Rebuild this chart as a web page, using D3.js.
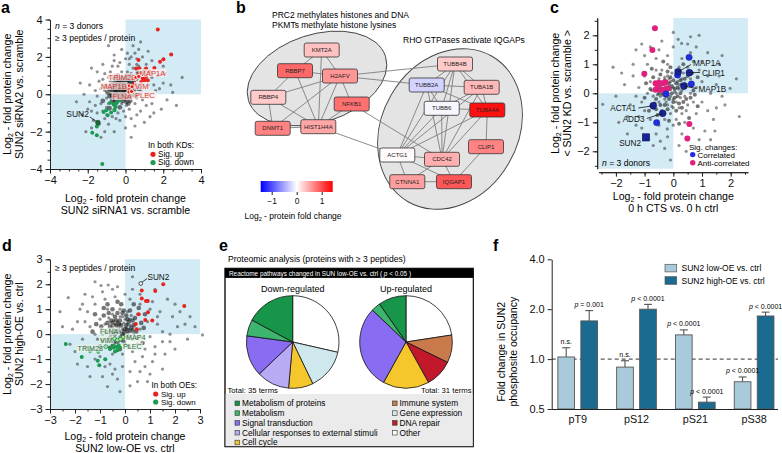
<!DOCTYPE html>
<html>
<head>
<meta charset="utf-8">
<script src="https://cdn.jsdelivr.net/npm/d3@7"></script>
<style>
body{margin:0;background:#fff;}
svg{font-family:"Liberation Sans",Arial,Helvetica,sans-serif;}
</style>
</head>
<body>
<svg id="fig" width="782" height="453"></svg>
<script>
// ---------- panel a : SUN2 siRNA1 vs siRNA2 ----------
var aGray = [[-0.5,0.5],[-0.4,0.3],[-0.3,0.6],[-0.2,0.1],[-0.1,0.4],[0,0.2],[0.1,0.5],[0.2,0.0],[-0.6,0.1],[-0.5,-0.1],
  [-0.3,-0.2],[-0.1,-0.1],[0.1,0.1],[0.3,0.3],[-0.4,0.8],[-0.2,0.9],[0,0.7],[0.2,0.8],[-0.7,0.4],[-0.8,0.0],
  [-0.6,-0.3],[-0.4,-0.4],[-0.2,-0.5],[0,-0.3],[0.2,-0.2],[0.4,0.1],[0.4,0.6],[-0.9,0.3],[-0.3,0.2],[-0.15,0.25],
  [0.05,0.35],[-0.45,0.05],[-0.25,-0.05],[-0.05,0.15],[0.15,0.25],[-0.35,0.45],[-0.55,0.25],[-0.65,0.65],[0.25,0.55],[-0.1,0.75],
  [-0.75,-0.15],[-0.5,-0.55],[0.05,-0.6],[0.3,-0.1],[0.5,0.3],[0.6,0.0],[-1.0,-0.2],[-1.1,0.2],[-0.9,-0.5],[-0.8,0.7],
  [0.6,0.8],[0.5,1.0],[0.3,1.1],[0.1,1.2],[-0.2,1.2],[-0.5,1.0],[0.7,0.5],[0.8,0.2],[-0.35,0.35],[-0.2,0.45],
  [-0.05,0.55],[0.1,0.65],[-0.45,0.6],[-0.3,0.05],[-0.15,0.0],[0.0,0.45],[-0.6,0.45],[0.2,0.4],[-0.25,0.7],[0.35,0.85],
  [0.3,2.0],[0.5,2.2],[0.6,1.9],[0.2,1.6],[0.7,1.5],[-0.4,1.5],[-0.8,1.2],[-1.2,0.8],[-1.3,0.3],[-1.5,-0.1],
  [-1.3,-0.5],[-1.2,-0.9],[-1.6,-0.6],[-1.8,-0.9],[-2.0,-0.8],[-1.0,-1.1],[-0.7,-1.2],[-0.4,-1.0],[-0.1,-0.9],[0.2,-0.8],
  [0.5,-0.5],[0.9,-0.3],[1.2,0.0],[1.5,0.5],[1.8,0.3],[2.0,0.6],[2.5,0.1],[1.3,1.2],[1.0,0.8],[1.1,1.6],
  [0.9,2.0],[0.4,2.6],[0.0,1.9],[-0.6,1.8],[-1.5,1.2],[-1.9,0.5],[-2.2,0.0],[-1.7,-1.4],[-1.4,-1.6],[-0.9,-1.6],
  [-0.3,-1.4],[0.3,-1.3],[0.8,-0.9],[1.4,-0.5],[2.2,-0.3],[1.7,1.0],[2.0,1.5],[-0.2,2.4],[0.8,2.8],[-1.1,-2.0],
  [0.0,-1.8],[1.0,-1.5],[0.9,1.2],[1.2,0.5],[-0.9,0.9],[-1.0,-0.7],[0.6,-0.2],[1.5,-1.0],[-0.6,-0.8],[0.4,1.4]];
var aGrayOuter = [[-1.4,0.7],[-1.6,0.2],[-1.1,1.1],[-0.7,1.5],[-0.3,1.7],[0.2,1.9],[0.6,1.6],[1.0,1.3],[1.4,0.9],[1.6,0.2],
  [1.1,-0.6],[0.6,-1.1],[0.0,-1.2],[-0.5,-1.3],[-1.1,-1.3],[-1.5,-1.0],[-1.9,-0.4],[-2.3,-1.1],[-1.8,-1.8],[-1.3,-2.3],
  [-0.6,-2.0],[0.5,-1.7],[1.3,-1.2],[1.9,-0.8],[2.4,0.5],[2.1,1.1],[1.4,1.8],[0.7,2.4],[0.1,2.2],[-0.6,2.1],
  [-1.2,1.6],[-1.8,1.4],[-2.4,0.6],[-2.6,-0.4],[3.0,0.9],[2.7,-0.6],[1.2,2.3],[-0.9,2.6],[0.3,-2.3],[-2.1,-2.0]];
var aGrayCore = [[-0.7,0.2],[-0.6,0.35],[-0.5,0.15],[-0.4,0.2],[-0.3,0.35],[-0.2,0.3],[-0.1,0.2],[0,0.3],[0.1,0.3],[0.2,0.2],
  [-0.7,-0.05],[-0.6,-0.15],[-0.5,0.0],[-0.4,-0.1],[-0.3,-0.05],[-0.2,-0.2],[-0.1,0.05],[0,0.0],[0.1,-0.05],[0.2,0.15],
  [-0.6,0.55],[-0.5,0.7],[-0.4,0.6],[-0.3,0.8],[-0.2,0.65],[-0.1,0.6],[0,0.85],[0.1,0.75],[0.2,0.65],[0.3,0.7],
  [-0.8,0.25],[-0.85,-0.1],[-0.7,-0.35],[-0.55,-0.4],[-0.35,-0.3],[-0.15,-0.35],[0.05,-0.4],[0.25,-0.35],[0.35,-0.05],[0.45,0.2],
  [0.5,0.5],[0.35,0.45],[0.15,0.5],[-0.05,0.3],[-0.25,0.5],[-0.45,0.4],[-0.65,0.3],[-0.35,0.65],[-0.15,0.85],[0.05,1.0],
  [-0.4,1.0],[-0.6,0.85],[0.25,1.0],[0.45,0.75],[-0.25,0.15],[-0.45,0.25],[-0.05,-0.2],[-0.55,0.1],[0.15,-0.15],[-0.35,-0.15],
  [-0.75,0.5],[-0.95,0.1],[-1.05,0.45],[-1.2,-0.35],[-0.85,-0.75],[-0.3,-0.7],[0.15,-0.5],[0.55,-0.1],[0.7,0.3],[0.65,1.1]];
var aUp = [[1.71,3.46],[2.42,2.13],[2.01,1.87],[1.83,1.74],[0.69,1.83],[0.74,1.38],[0.56,1.38],[1.09,1.38],[1.53,1.41],
  [0.74,0.93],[0.92,0.84],[1.09,0.93],[1.0,0.75],[0.56,0.84],[1.18,0.75],[0.83,0.66],[0.48,0.57],[0.42,0.48],
  [0.74,1.11],[1.27,1.2],[0.25,0.39],[0.12,0.3]];
var aDown = [[-1.52,-1.72],[-1.76,-2.06],[-1.52,-2.2],[-1.23,-3.73],[-0.94,-1.13],[-1.02,-0.86],[-0.81,-0.45],
  [-0.63,-0.55],[-0.53,-0.68],[-0.76,-0.98],[-0.46,-0.45],[-0.32,-0.32],[-0.58,-0.86],[-1.16,-0.95]];
var aSun2 = [-1.46,-1.52];
var aTagged = [["TRIM28",0.55,0.9],["MAP1A",0.7,0.95],["MAP1B",0.2,0.45],["VIM",0.35,0.4],["FLNA",0.18,0.12],["PLEC",0.32,0.15]];

// ---------- panel b : network ----------
var nodeNames = ["KMT2A","RBBP7","H2AFV","RBBP4","NFKB1","DNMT1","HIST1H4A","TUBB4B","TUBB2A","TUBA1B","TUBB6","TUBA4A","CLIP1","ACTG1","CDC42","CTNNA1","IQGAP1"];
var nodeFC = [0.35,0.85,0.6,0.3,0.8,0.7,0.5,0.3,-0.25,0.4,-0.05,1.35,0.7,0.02,0.45,0.55,0.95];
var links = [["KMT2A","RBBP7"],["KMT2A","H2AFV"],["KMT2A","HIST1H4A"],["RBBP7","H2AFV"],["RBBP7","RBBP4"],["RBBP7","HIST1H4A"],
  ["H2AFV","RBBP4"],["H2AFV","NFKB1"],["H2AFV","DNMT1"],["H2AFV","HIST1H4A"],["RBBP4","DNMT1"],["RBBP4","HIST1H4A"],
  ["DNMT1","HIST1H4A"],["NFKB1","HIST1H4A"],["H2AFV","TUBB4B"],["H2AFV","TUBB2A"],["HIST1H4A","ACTG1"],["NFKB1","CDC42"],
  ["TUBB4B","TUBB2A"],["TUBB4B","TUBA1B"],["TUBB4B","TUBB6"],["TUBB4B","TUBA4A"],["TUBB4B","CDC42"],["TUBB4B","ACTG1"],
  ["TUBB2A","TUBA1B"],["TUBB2A","TUBB6"],["TUBB2A","TUBA4A"],["TUBB2A","ACTG1"],["TUBB2A","CDC42"],
  ["TUBA1B","TUBB6"],["TUBA1B","TUBA4A"],["TUBA1B","ACTG1"],["TUBA1B","CDC42"],["TUBB6","TUBA4A"],["TUBB6","ACTG1"],
  ["TUBB6","CDC42"],["TUBA4A","ACTG1"],["TUBA4A","CDC42"],["TUBA4A","CLIP1"],["CLIP1","IQGAP1"],["ACTG1","CDC42"],
  ["ACTG1","CTNNA1"],["ACTG1","IQGAP1"],["CDC42","IQGAP1"],["CDC42","CTNNA1"],["CTNNA1","IQGAP1"]];
var fcTicks = [-1,0,1];

// ---------- panel c : CTS vs SUN2 KD ----------
var cGray = [[-0.3,0.3],[-0.2,0.1],[-0.1,0.4],[0,0.2],[0.1,0],[0.2,0.3],[-0.4,0],[-0.3,-0.2],[-0.1,-0.1],[0.1,-0.3],
  [0.3,0.1],[0.4,-0.1],[-0.5,0.5],[-0.2,0.6],[0.1,0.6],[0.3,0.5],[-0.6,0.2],[-0.5,-0.3],[-0.2,-0.4],[0,-0.5],
  [0.2,-0.5],[0.5,0.3],[-0.7,-0.1],[0.5,-0.4],[-0.35,0.15],[-0.15,0.25],[0.05,0.05],[0.25,-0.15],[-0.45,-0.1],[-0.25,-0.3],
  [0.15,0.4],[-0.05,0.7],[0.35,0.7],[-0.4,0.8],[0.6,0],[0.6,0.5],[-0.8,0.4],[-0.9,0],[-0.7,-0.5],[-0.4,-0.6],
  [-0.1,-0.7],[0.3,-0.7],[0.7,-0.3],[0.8,0.2],[0.2,0.9],[-0.2,1.0],[-0.6,0.8],[0.5,0.9],[-0.3,-0.9],[0.1,-0.9],
  [-0.15,0.5],[0.0,-0.2],[0.2,0.15],[-0.55,-0.05],[0.4,0.35],[-0.3,0.55],[0.1,0.8],[-0.05,-0.45],[0.45,-0.6],[-0.75,0.1],
  [-1.0,0.6],[-1.1,-0.3],[-1.0,-0.6],[-0.8,-0.9],[-0.5,-1.1],[0,-1.1],[0.4,-1.0],[0.8,-0.7],[1.0,-0.3],[1.0,0.4],
  [0.9,0.8],[0.7,1.1],[0.3,1.2],[-0.2,1.3],[-0.6,1.2],[-0.9,1.0],[-1.2,0.2],[-1.3,-0.1],[-1.2,-0.8],[-0.6,-1.4],
  [-0.2,-1.5],[0.3,-1.4],[0.7,-1.2],[1.2,-0.6],[1.3,0.0],[1.2,0.6],[1.0,1.1],[0.6,1.4],[0.0,1.6],[-0.5,1.5],
  [-1.0,1.3],[-1.4,0.6],[-1.5,-0.4],[-1.3,-1.1],[1.5,0.3],[1.4,-0.9],[0.9,-1.6],[0.2,-1.8],[0.17,1.86],[0.29,1.72],
  [1.98,0.17],[-2.46,-0.38],[-1.7,0.3],[1.6,1.0],[-0.21,-1.23],[0.5,1.7],[-1.1,1.7],[1.8,-0.4],[-0.9,-1.5],[0.45,-2.0]];
var cGrayOuter = [[-1.6,-0.8],[-1.8,0.7],[-1.4,1.0],[-2.0,-0.1],[-0.8,1.6],[-0.4,1.8],[0.8,1.6],[1.2,1.4],[1.6,0.6],[1.7,-0.1],
  [1.5,-0.5],[1.1,-1.3],[0.5,-1.6],[-0.3,-1.9],[-0.7,-1.8],[-1.1,-1.2],[-1.6,-1.4],[2.2,0.5],[1.3,-1.6],[-2.1,0.9],
  [0.9,2.0],[0.0,2.1],[-1.3,1.5],[2.3,-0.8],[-0.1,-2.3],[1.7,1.3],[-1.9,-1.0],[0.6,1.95],[1.45,-1.3],[-0.45,-1.65]];
var cGrayCore = [[-0.35,0.35],[-0.25,0.2],[-0.15,0.35],[-0.05,0.25],[0.05,0.15],[0.15,0.2],[0.25,0.0],[-0.45,0.2],[-0.35,-0.05],[-0.25,-0.1],
  [-0.15,-0.2],[-0.05,0.0],[0.05,-0.15],[0.15,-0.1],[0.35,-0.3],[-0.55,0.35],[-0.3,0.45],[0.0,0.45],[0.25,0.45],[-0.6,-0.2],
  [-0.45,-0.4],[-0.2,-0.55],[0.1,-0.6],[0.4,0.2],[0.5,0.6],[-0.1,0.9],[-0.45,0.65],[-0.7,0.55],[-0.8,0.15],[-0.65,-0.35],
  [0.3,0.3],[0.45,-0.2],[0.6,-0.15],[0.7,0.1],[0.65,0.7],[0.35,1.0],[-0.35,1.1],[-0.75,0.85],[-0.95,0.35],[-1.0,-0.15],
  [-0.85,-0.6],[-0.55,-0.75],[-0.15,-0.95],[0.2,-1.05],[0.55,-0.85],[0.85,-0.45],[0.85,0.55],[-0.1,0.55],[-0.2,0.75],[0.0,-0.3],
  [-0.4,0.1],[-0.1,0.15],[0.2,-0.35],[-0.3,-0.4],[0.1,0.35],[0.4,0.5],[-0.5,0.0],[-0.6,-0.55],[0.3,-0.5],[0.75,-0.05]];
var cCorr = [[0.55,1.24],[0.15,0.63],[0.63,0.32],[-0.25,-0.02],[-0.58,-1.01]];
var cCorrTagged = [["MAP1A",0.17,0.74],["CLIP1",0.56,0.71],["MAP1B",0.37,0.25],["ACTA1",-0.7,-0.43],["ADD3",-0.37,-0.69]];
var cSun2 = [-0.95,-1.52];
var cAnti = [[-0.64,2.24],[-0.73,1.49],[-1.01,0.67],[0.49,-1.56],[0.56,-1.06],[-0.62,0.35],[-0.5,0.36],[-0.38,0.35],
  [-0.27,0.38],[-0.62,0.12],[-0.5,0.13],[-0.4,0.12],[-0.28,0.14],[-0.18,0.17],[-0.55,0.22]];

// ---------- panel d : low-OE vs high-OE ----------
var dGray = [[-0.5,0.3],[-0.3,0.5],[-0.1,0.2],[0.1,0.4],[-0.2,-0.1],[0,0],[0.2,0.1],[-0.4,-0.2],[-0.6,0.1],[-0.1,0.7],
  [0.2,0.6],[-0.5,0.8],[0.3,-0.2],[0,-0.4],[-0.3,-0.5],[-0.7,-0.3],[-0.8,0.4],[0.4,0.4],[-0.2,1.0],[0.1,0.9],
  [-0.25,0.25],[-0.05,0.45],[0.15,0.2],[-0.35,0.05],[-0.15,-0.25],[0.05,-0.15],[-0.45,0.55],[0.25,0.75],[-0.65,0.65],[0.35,0.0],
  [-0.9,0],[-1.0,0.6],[-0.7,1.0],[0.5,0.8],[0.6,0.2],[0.5,-0.4],[-0.1,-0.8],[-0.5,-0.8],[0.3,-0.7],[-1.1,-0.2],
  [-0.2,0.4],[0.0,0.6],[-0.4,0.4],[0.1,0.05],[-0.3,0.15],[0.2,0.35],[-0.1,-0.05],[-0.55,0.0],[0.05,0.25],[-0.2,0.7],
  [-1.4,0.3],[-1.5,0.9],[-1.2,1.2],[-0.8,1.4],[-0.4,1.5],[0.2,1.4],[0.6,1.2],[0.9,0.5],[1.0,-0.1],[0.8,-0.6],
  [0.4,-1.1],[-0.1,-1.3],[-0.6,-1.2],[-1.0,-0.9],[-1.3,-0.6],[-1.7,-0.2],[-1.9,0.5],[-2.27,1.46],[-0.67,1.97],[-0.96,1.95],
  [0.2,-2.07],[3.1,-0.03],[1.3,0.4],[1.5,0.1],[1.2,-0.5],[1.6,-0.8],[1.9,0.7],[2.2,0.9],[2.4,0.4],[1.0,1.0],
  [0.3,1.8],[-0.3,1.9],[-1.6,1.6],[-2.0,-0.7],[-1.5,-1.3],[-0.9,-1.7],[-0.3,-1.8],[0.6,-1.5],[1.1,-1.1],[1.8,-0.3],
  [0.9,-1.9],[-2.5,0.3],[-1.2,0.0],[1.4,0.9],[2.8,0.3],[-0.5,-1.6],[0.0,1.6],[1.7,1.4],[-1.8,1.0],[0.7,-0.9]];
var dGrayOuter = [[-1.6,0.5],[-1.7,1.2],[-1.3,1.5],[-0.9,1.7],[-0.5,1.8],[0.6,1.6],[1.1,1.3],[1.3,0.7],[1.5,-0.3],[1.2,-0.8],
  [0.8,-1.3],[0.2,-1.5],[-0.4,-1.4],[-0.8,-1.3],[-1.2,-1.0],[-1.6,-0.5],[-2.1,0.2],[-2.2,-0.4],[-1.4,-1.7],[-0.2,-2.3],
  [0.5,-1.9],[1.5,-1.4],[2.0,-0.6],[2.1,0.3],[2.6,0.7],[2.0,1.2],[1.2,1.8],[0.3,2.3],[-1.2,2.1],[-2.6,0.9],
  [1.0,-1.6],[-0.7,-2.1],[2.5,-0.2],[1.8,0.0],[-1.9,-1.2]];
var dGrayCore = [[-0.6,0.3],[-0.45,0.15],[-0.35,0.35],[-0.25,0.1],[-0.15,0.35],[-0.05,0.1],[0.05,0.35],[0.15,0.5],[0.25,0.25],[-0.55,0.55],
  [-0.4,0.7],[-0.3,0.85],[-0.1,0.85],[0.05,0.75],[0.3,0.55],[-0.7,0.45],[-0.75,0.1],[-0.6,-0.15],[-0.45,-0.35],[-0.3,-0.3],
  [-0.05,-0.3],[0.15,-0.1],[0.3,0.15],[0.45,0.1],[0.4,0.65],[0.2,0.95],[-0.5,1.0],[-0.85,0.75],[-0.95,0.3],[-0.9,-0.25],
  [-0.6,-0.55],[-0.2,-0.6],[0.15,-0.5],[0.5,-0.15],[0.65,0.45],[0.55,1.05],[-0.15,1.2],[-0.7,1.2],[-1.15,0.4],[-1.2,0.8],
  [-0.35,0.55],[-0.2,0.55],[0.0,0.2],[-0.1,0.0],[-0.4,0.0],[0.1,0.15],[-0.25,0.4],[-0.5,0.45],[0.1,0.6],[-0.05,0.95],
  [0.35,0.35],[-0.65,0.85],[0.75,0.25],[0.7,-0.35],[-1.0,-0.5],[-0.85,1.05],[0.35,1.2],[-0.3,1.3],[0.8,0.8],[-1.3,0.1]];
var dUp = [[1.53,2.0],[0.67,1.75],[1.21,1.73],[0.67,1.43],[0.91,1.33],[0.84,1.33],[0.92,0.88],[0.55,0.8],
  [2.37,1.13],[1.09,0.55],[0.81,0.57],[0.43,0.41],[0.47,0.2]];
var dDown = [[-2.37,-0.39],[-1.73,-0.92],[-1.4,-0.69],[-1.09,-1.07],[-1.03,-1.25],[-0.79,-1.01],[-1.07,-0.71],
  [-0.6,-0.6],[-0.45,-0.55],[-0.35,-0.5],[-0.3,-0.65],[-0.5,-0.45],[-0.25,-0.45],[-0.4,-0.7],[-0.2,-0.55]];
var dSun2 = [0.63,2.03];
var dTagged = [["FLNA",-0.42,-0.18],["VIM",-0.3,-0.24],["MAP4",-0.08,-0.12],["PLEC",-0.18,-0.2],["TRIM28",-0.77,-0.5]];

// ---------- panel e : reactome pies ----------
var pathways = ["Metabolism of proteins","Metabolism","Signal transduction","Cellular responses to external stimuli","Cell cycle",
  "Immune system","Gene expression","DNA repair","Other"];
var pathColors = ["#17964a","#3db56e","#8a6cf2","#b9aaf5","#f6c72c","#c97a4b","#cfe8ee","#c2182b","#ffffff"];
var downTerms = [["Other",10],["Gene expression",5],["Cell cycle",3],["Cellular responses to external stimuli",4],
  ["Signal transduction",5],["Metabolism",2],["Metabolism of proteins",6]];
var upTerms = [["Other",7],["Immune system",3],["DNA repair",3],["Cell cycle",5],["Signal transduction",9],
  ["Metabolism",1],["Metabolism of proteins",3]];

// ---------- panel f : phosphosite occupancy ----------
var sites = ["pT9","pS12","pS21","pS38"];
var lowOE = [1.03,0.895,1.40,0.73];
var lowErr = [1.17,0.977,1.50,0.78];
var highOE = [1.70,2.0,0.55,1.82];
var highErr = [1.96,2.14,0.59,1.92];
var lowP = ["n.s.","n.s.","p < 0.0001","p < 0.0001"];
var highP = ["p = 0.001","p < 0.0001","p < 0.0001","p < 0.0001"];
var fTicks = [0.5,1,2,4];

var svg = d3.select("#fig");
var QUAD = "#d3ebf5";

function log2Text(sel, rest, size){
  sel.append("tspan").text("Log");
  sel.append("tspan").text("2").attr("font-size", size*0.65).attr("dy", size*0.22);
  sel.append("tspan").text(rest).attr("dy", -size*0.22);
}

function panelLetter(t, x, y){
  svg.append("text").attr("x", x).attr("y", y).attr("font-size", 16).attr("font-weight", "bold").text(t);
}

function tag(g, txt, x, y, color, bg, size, anchor){
  var t = g.append("text").attr("x", x).attr("y", y).attr("font-size", size).attr("fill", color)
    .attr("text-anchor", anchor || "start").text(txt);
  if(bg){
    var b = t.node().getBBox();
    g.insert("rect", function(){ return t.node(); }).attr("x", b.x - 1).attr("y", b.y + 0.5)
      .attr("width", b.width + 2).attr("height", b.height - 1).attr("fill", bg).attr("opacity", 0.72);
  }
  return t;
}

function styleAxis(ax, size){
  ax.selectAll("path,line").attr("stroke", "#222");
  ax.selectAll("text").attr("font-size", size).attr("fill", "#111");
  ax.attr("font-family", null).attr("font-size", null);
}

function scatter(o){
  var g = svg.append("g");
  var x = d3.scaleLinear().domain(o.xd).range(o.xr);
  var y = d3.scaleLinear().domain(o.yd).range(o.yr);
  var left = o.xr[0], right = o.xr[1], bottom = o.yr[0], top = o.yr[1];
  g.append("rect").attr("x", x(0)).attr("y", top).attr("width", right - x(0)).attr("height", y(0) - top).attr("fill", QUAD);
  g.append("rect").attr("x", left).attr("y", y(0)).attr("width", x(0) - left).attr("height", bottom - y(0)).attr("fill", QUAD);

  var fmt = d3.format("d");
  var xa = g.append("g").attr("transform", "translate(0," + (bottom + o.xoff) + ")");
  xa.append("g").call(d3.axisBottom(x).tickValues(o.minor).tickSize(2.5).tickSizeOuter(0).tickFormat(""));
  xa.append("g").call(d3.axisBottom(x).tickValues(o.major).tickSize(4.5).tickSizeOuter(0).tickFormat(fmt));
  styleAxis(xa.selectAll("g"), 11);
  var ya = g.append("g").attr("transform", "translate(" + (left - o.yoff) + ",0)");
  ya.append("g").call(d3.axisLeft(y).tickValues(o.minor).tickSize(2.5).tickSizeOuter(0).tickFormat(""));
  ya.append("g").call(d3.axisLeft(y).tickValues(o.major).tickSize(4.5).tickSizeOuter(0).tickFormat(fmt));
  styleAxis(ya.selectAll("g"), 11);

  g.append("g").selectAll("circle").data(o.gray).join("circle")
    .attr("cx", function(d){ return x(d[0]); }).attr("cy", function(d){ return y(d[1]); })
    .attr("r", 1.6).attr("fill", "#262626").attr("fill-opacity", 0.5);
  g.append("g").selectAll("circle").data(o.core).join("circle")
    .attr("cx", function(d){ return x(d[0]); }).attr("cy", function(d){ return y(d[1]); })
    .attr("r", o.coreR).attr("fill", "#1a1a1a").attr("fill-opacity", 0.6);

  var xt = g.append("text").attr("x", (left + right)/2).attr("y", o.xty).attr("text-anchor", "middle").attr("font-size", 10.6);
  log2Text(xt, " - fold protein change", 10.6);
  g.append("text").attr("x", (left + right)/2).attr("y", o.xty + 12).attr("text-anchor", "middle").attr("font-size", 10.6).text(o.xt2);
  var yc = (top + bottom)/2;
  var yt = g.append("text").attr("transform", "translate(" + o.ytx + "," + yc + ") rotate(-90)").attr("text-anchor", "middle").attr("font-size", 10.6);
  log2Text(yt, " - fold protein change", 10.6);
  g.append("text").attr("transform", "translate(" + (o.ytx + 12) + "," + yc + ") rotate(-90)").attr("text-anchor", "middle").attr("font-size", 10.6).text(o.yt2);
  return {g: g, x: x, y: y};
}

function dots(g, x, y, data, r, fill, stroke, sw){
  g.append("g").selectAll("circle").data(data).join("circle")
    .attr("cx", function(d){ return x(d[d.length - 2]); }).attr("cy", function(d){ return y(d[d.length - 1]); })
    .attr("r", r).attr("fill", fill).attr("stroke", stroke || "none").attr("stroke-width", sw || 0);
}

var RED = "#e8231d", GREEN = "#1b9a50";

// ===== panel a =====
(function(){
  var p = scatter({xd: [-4,4], xr: [50,201], yd: [-4,4], yr: [169,19.5], xoff: 0, yoff: 0,
    gray: aGray.concat(aGrayOuter), core: aGrayCore, coreR: 2.4,
    major: [-4,-2,0,2,4], minor: d3.range(-4, 4.01, 0.5),
    xty: 202, xt2: "SUN2 siRNA1 vs. scramble", ytx: 11, yt2: "SUN2 siRNA2 vs. scramble"});
  var g = p.g, x = p.x, y = p.y;
  dots(g, x, y, aUp, 2, RED);
  dots(g, x, y, aDown, 2, GREEN);
  dots(g, x, y, [aSun2], 2.4, "#1e6b3c", "#0d3b1e", 0.6);
  g.append("line").attr("x1", 90).attr("y1", 117).attr("x2", x(aSun2[0]) - 1.5).attr("y2", y(aSun2[1]) - 1).attr("stroke", "#111").attr("stroke-width", 0.8);
  tag(g, "SUN2", 89, 116.5, "#111", null, 8.5, "end");
  var pos = {TRIM28: [108.5, 79.5], MAP1A: [139.5, 75.5], MAP1B: [101, 88.5], VIM: [135, 88.5], FLNA: [112.5, 98.5], PLEC: [135, 97.5]};
  aTagged.forEach(function(d){
    tag(g, d[0], pos[d[0]][0], pos[d[0]][1], "#d23a35", "#fbecec", 7.6);
  });
  dots(g, x, y, aTagged, 2.1, RED, "#fff", 0.9);
  g.append("text").attr("x", 55).attr("y", 29).attr("font-size", 8.6).html('<tspan font-style="italic">n</tspan> = 3 donors');
  g.append("text").attr("x", 55).attr("y", 41).attr("font-size", 8.6).text("\u2265 3 peptides / protein");
  g.append("text").attr("x", 148).attr("y", 148).attr("font-size", 8.4).text("In both KDs:");
  g.append("circle").attr("cx", 153).attr("cy", 154.3).attr("r", 2.6).attr("fill", RED);
  g.append("text").attr("x", 158).attr("y", 157.2).attr("font-size", 8.2).text("Sig. up");
  g.append("circle").attr("cx", 153).attr("cy", 162.5).attr("r", 2.6).attr("fill", GREEN);
  g.append("text").attr("x", 158).attr("y", 165.4).attr("font-size", 8.2).text("Sig. down");
})();
panelLetter("a", 1, 13);

// ===== panel b =====
(function(){
  var g = svg.append("g");
  var color = d3.scaleLinear().domain([-1.44, 0, 1.44]).range(["#0000ff", "#ffffff", "#ff0000"]);
  var layout = {KMT2A: [321.7,50], RBBP7: [295,70.7], H2AFV: [340,76], RBBP4: [268.3,97.3], NFKB1: [351.7,104],
    DNMT1: [272.7,128.3], HIST1H4A: [318.3,126.7], TUBB4B: [455,64], TUBB2A: [426.7,85], TUBA1B: [481.7,87.3],
    TUBB6: [441.7,108.3], TUBA4A: [487.3,110], CLIP1: [486,146.7], ACTG1: [397.3,155], CDC42: [442,159.3],
    CTNNA1: [407.3,181.7], IQGAP1: [454,181.7]};
  g.append("ellipse").attr("cx", 317).attr("cy", 78.5).attr("rx", 72).attr("ry", 44)
    .attr("transform", "rotate(-18,317,78.5)").attr("fill", "#e4e4e4").attr("stroke", "#444").attr("stroke-width", 0.9);
  g.append("ellipse").attr("cx", 450).attr("cy", 129).attr("rx", 84).attr("ry", 68)
    .attr("transform", "rotate(-60,450,129)").attr("fill", "#e4e4e4").attr("stroke", "#444").attr("stroke-width", 0.9);
  g.append("g").selectAll("line").data(links).join("line")
    .attr("x1", function(d){ return layout[d[0]][0]; }).attr("y1", function(d){ return layout[d[0]][1]; })
    .attr("x2", function(d){ return layout[d[1]][0]; }).attr("y2", function(d){ return layout[d[1]][1]; })
    .attr("stroke", "#7e7e7e").attr("stroke-width", 0.9);
  var nodes = nodeNames.map(function(n, i){ return {name: n, fc: nodeFC[i]}; });
  var ng = g.append("g").selectAll("g").data(nodes).join("g")
    .attr("transform", function(d){ return "translate(" + layout[d.name][0] + "," + layout[d.name][1] + ")"; });
  ng.append("rect").attr("x", -17.5).attr("y", -7).attr("width", 35).attr("height", 14).attr("rx", 2)
    .attr("fill", function(d){ return color(d.fc); }).attr("stroke", "#333").attr("stroke-width", 0.8);
  ng.append("text").attr("text-anchor", "middle").attr("y", 2.1).attr("font-size", 6).attr("fill", "#222")
    .text(function(d){ return d.name; });

  g.append("text").attr("x", 272).attr("y", 18).attr("font-size", 8.5).text("PRC2 methylates histones and DNA");
  g.append("text").attr("x", 272).attr("y", 28).attr("font-size", 8.5).text("PKMTs methylate histone lysines");
  g.append("text").attr("x", 403).attr("y", 43).attr("font-size", 8.5).text("RHO GTPases activate IQGAPs");

  // colour bar
  var defs = svg.append("defs");
  var grad = defs.append("linearGradient").attr("id", "fcgrad");
  grad.selectAll("stop").data([-1.44, -0.72, 0, 0.72, 1.44]).join("stop")
    .attr("offset", function(d){ return ((d + 1.44) / 2.88 * 100) + "%"; })
    .attr("stop-color", function(d){ return color(d); });
  var cb = d3.scaleLinear().domain([-1.44, 1.44]).range([260.7, 332.7]);
  g.append("rect").attr("x", 260.7).attr("y", 181).attr("width", 72).attr("height", 11).attr("fill", "url(#fcgrad)");
  var cax = g.append("g").attr("transform", "translate(0,192)")
    .call(d3.axisBottom(cb).tickValues(fcTicks).tickSize(3).tickSizeOuter(0).tickFormat(d3.format("d")));
  cax.select(".domain").remove();
  styleAxis(cax, 8.5);
  var ct = g.append("text").attr("x", 293).attr("y", 219).attr("text-anchor", "middle").attr("font-size", 8.5);
  log2Text(ct, " - protein fold change", 8.5);
})();
panelLetter("b", 236, 13);

// ===== panel c =====
(function(){
  var p = scatter({xd: [-2.6,2.6], xr: [598.7,747.9], yd: [-2.6,2.6], yr: [168.7,17.9], xoff: 3.5, yoff: 1.5,
    gray: cGray.concat(cGrayOuter), core: cGrayCore, coreR: 2.0,
    major: [-2,-1,0,1,2], minor: d3.range(-2.5, 2.51, 0.5),
    xty: 200, xt2: "0 h CTS  vs. 0 h ctrl", ytx: 559, yt2: "< SUN2 KD vs. scramble >"});
  var g = p.g, x = p.x, y = p.y;
  dots(g, x, y, cAnti, 3, "#e0207f");
  dots(g, x, y, cCorr, 3.2, "#1f2fe0", "#14207a", 0.4);
  dots(g, x, y, cCorrTagged, 3.4, "#1a2396", "#0b1050", 0.6);
  g.append("rect").attr("x", x(cSun2[0]) - 3.6).attr("y", y(cSun2[1]) - 3.6).attr("width", 7.2).attr("height", 7.2)
    .attr("fill", "#1a2396").attr("stroke", "#0b1050").attr("stroke-width", 0.6);
  var lab = {MAP1A: [693, 66, 691, 64.5], CLIP1: [702, 75.5, 700, 72.5], MAP1B: [698.5, 92, 696.5, 88.5],
    ACTA1: [636, 111, 638.3, 108], ADD3: [644.5, 122, 646.7, 118.5]};
  cCorrTagged.forEach(function(d){
    var l = lab[d[0]];
    var end = d[1] < 0;
    g.append("line").attr("x1", l[2]).attr("y1", l[3]).attr("x2", x(d[1])).attr("y2", y(d[2])).attr("stroke", "#111").attr("stroke-width", 0.8);
    tag(g, d[0], l[0], l[1], "#111", null, 8.2, end ? "end" : "start");
  });
  tag(g, "SUN2", 641, 145.5, "#111", null, 8.2, "end");
  g.append("text").attr("x", 602).attr("y", 166).attr("font-size", 8.6).html('<tspan font-style="italic">n</tspan> = 3 donors');
  g.append("text").attr("x", 689).attr("y", 149.5).attr("font-size", 8).text("Sig. changes:");
  g.append("circle").attr("cx", 692.7).attr("cy", 154.6).attr("r", 2.7).attr("fill", "#1f2fe0");
  g.append("text").attr("x", 697.5).attr("y", 157.5).attr("font-size", 8).text("Correlated");
  g.append("circle").attr("cx", 692.7).attr("cy", 162.8).attr("r", 2.7).attr("fill", "#e0207f");
  g.append("text").attr("x", 697.5).attr("y", 165.7).attr("font-size", 8).text("Anti-correlated");
})();
panelLetter("c", 550, 13);

// ===== panel d =====
(function(){
  var p = scatter({xd: [-3,3], xr: [50,200], yd: [-3,3], yr: [409,259.3], xoff: 0, yoff: 0,
    gray: dGray.concat(dGrayOuter), core: dGrayCore, coreR: 2.3,
    major: [-3,-2,-1,0,1,2,3], minor: d3.range(-3, 3.01, 0.5),
    xty: 440, xt2: "SUN2 low-OE vs. ctrl", ytx: 11, yt2: "SUN2 high-OE vs. ctrl"});
  var g = p.g, x = p.x, y = p.y;
  dots(g, x, y, dUp, 2, RED);
  dots(g, x, y, dDown, 2, GREEN);
  var pos = {FLNA: [100, 334], VIM: [100, 342.5], MAP4: [126, 340], PLEC: [123, 349], TRIM28: [77.5, 351]};
  dTagged.forEach(function(d){
    tag(g, d[0], pos[d[0]][0], pos[d[0]][1], "#2e6e3e", "#e6f3e6", 7.2);
  });
  dots(g, x, y, dTagged, 1.9, "#9cf09c", "#1f5e2e", 0.6);
  g.append("line").attr("x1", x(dSun2[0]) + 1.2).attr("y1", y(dSun2[1]) - 1.2).attr("x2", 147).attr("y2", 278.5).attr("stroke", "#111").attr("stroke-width", 0.8);
  g.append("circle").attr("cx", x(dSun2[0])).attr("cy", y(dSun2[1])).attr("r", 1.8).attr("fill", "#fff").attr("stroke", "#111").attr("stroke-width", 0.8);
  tag(g, "SUN2", 147.5, 280, "#111", null, 8.2);
  g.append("text").attr("x", 55).attr("y", 270.5).attr("font-size", 8.6).text("\u2265 3 peptides / protein");
  g.append("text").attr("x", 151.5).attr("y", 388).attr("font-size", 8.2).text("In both OEs:");
  g.append("circle").attr("cx", 155.7).attr("cy", 394).attr("r", 2.6).attr("fill", RED);
  g.append("text").attr("x", 161).attr("y", 396.8).attr("font-size", 7.9).text("Sig. up");
  g.append("circle").attr("cx", 155.7).attr("cy", 402).attr("r", 2.6).attr("fill", GREEN);
  g.append("text").attr("x", 161).attr("y", 404.9).attr("font-size", 7.9).text("Sig. down");
})();
panelLetter("d", 2, 251);

// ===== panel e =====
(function(){
  var g = svg.append("g");
  var col = d3.scaleOrdinal().domain(pathways).range(pathColors);
  g.append("text").attr("x", 228).attr("y", 262).attr("font-size", 8.6).text("Proteomic analysis (proteins with \u2265 3 peptides)");
  g.append("rect").attr("x", 225).attr("y", 268.3).attr("width", 248.3).attr("height", 178.4).attr("fill", "#fff").attr("stroke", "#111").attr("stroke-width", 0.9);
  g.append("rect").attr("x", 225).attr("y", 394).attr("width", 248.3).attr("height", 52.7).attr("fill", "#ebebeb");
  g.append("rect").attr("x", 225).attr("y", 268.3).attr("width", 248.3).attr("height", 9.6).attr("fill", "#000");
  g.append("text").attr("x", 229).attr("y", 275.6).attr("font-size", 6.4).attr("fill", "#fff")
    .html('Reactome pathways changed in SUN low-OE vs. ctrl ( <tspan font-style="italic">p</tspan> &lt; 0.05 )');
  g.append("rect").attr("x", 225).attr("y", 268.3).attr("width", 248.3).attr("height", 178.4).attr("fill", "none").attr("stroke", "#111").attr("stroke-width", 0.9);

  var pie = d3.pie().sort(null).value(function(d){ return d[1]; });
  var arc = d3.arc().innerRadius(0).outerRadius(46.3);
  [[downTerms, 292.7, "Down-regulated"], [upTerms, 406, "Up-regulated"]].forEach(function(s){
    var pg = g.append("g").attr("transform", "translate(" + s[1] + ",342)");
    pg.selectAll("path").data(pie(s[0])).join("path").attr("d", arc)
      .attr("fill", function(d){ return col(d.data[0]); }).attr("stroke", "#111").attr("stroke-width", 0.8);
    g.append("text").attr("x", s[1]).attr("y", 292).attr("text-anchor", "middle").attr("font-size", 9).text(s[2]);
  });
  g.append("text").attr("x", 227.5).attr("y", 393).attr("font-size", 7.7).text("Total: " + d3.sum(downTerms, function(d){ return d[1]; }) + " terms");
  g.append("text").attr("x", 471.5).attr("y", 393).attr("text-anchor", "end").attr("font-size", 7.7).text("Total: " + d3.sum(upTerms, function(d){ return d[1]; }) + " terms");

  var leg = pathways.map(function(p, i){
    return {name: p, col: i < 5 ? 0 : 1, row: i < 5 ? i : i - 5};
  });
  var lg = g.append("g").selectAll("g").data(leg).join("g")
    .attr("transform", function(d){ return "translate(" + (d.col ? 392.5 : 235) + "," + (403.3 + d.row * 9.8) + ")"; });
  lg.append("rect").attr("x", 0).attr("y", -2.3).attr("width", 4.6).attr("height", 4.6)
    .attr("fill", function(d){ return col(d.name); }).attr("stroke", "#333").attr("stroke-width", 0.6);
  lg.append("text").attr("x", 7).attr("y", 2.9).attr("font-size", 8.3).text(function(d){ return d.name; });
})();
panelLetter("e", 219, 251);

// ===== panel f =====
(function(){
  var g = svg.append("g");
  var y = d3.scaleLog().base(2).domain([0.5, 4]).range([409, 259.3]);
  var x = d3.scaleBand().domain(sites).range([548.3, 783.5]);
  var sub = d3.scaleBand().domain(["low", "high"]).range([-19.85, 19.85]).paddingInner(0.274);
  var LOW = "#a9cadb", HIGH = "#1b6a8f";

  g.append("line").attr("x1", 551.7).attr("x2", 778).attr("y1", y(1)).attr("y2", y(1))
    .attr("stroke", "#333").attr("stroke-width", 1).attr("stroke-dasharray", "4,3");

  var rows = sites.map(function(s, i){
    return [{site: s, key: "low", v: lowOE[i], e: lowErr[i], p: lowP[i]}, {site: s, key: "high", v: highOE[i], e: highErr[i], p: highP[i]}];
  });
  var bars = [].concat.apply([], rows);
  var bx = function(d){ return x(d.site) + x.bandwidth()/2 + sub(d.key); };
  var cx = function(d){ return bx(d) + sub.bandwidth()/2; };
  // error bars
  g.append("g").selectAll("line").data(bars).join("line")
    .attr("x1", cx).attr("x2", cx).attr("y1", function(d){ return y(d.v); }).attr("y2", function(d){ return y(d.e); })
    .attr("stroke", "#444").attr("stroke-width", 1);
  g.append("g").selectAll("line").data(bars).join("line")
    .attr("x1", function(d){ return cx(d) - 4; }).attr("x2", function(d){ return cx(d) + 4; })
    .attr("y1", function(d){ return y(d.e); }).attr("y2", function(d){ return y(d.e); })
    .attr("stroke", "#444").attr("stroke-width", 1);
  g.append("g").selectAll("rect").data(bars).join("rect")
    .attr("x", bx).attr("width", sub.bandwidth())
    .attr("y", function(d){ return y(d.v); }).attr("height", function(d){ return 409 - y(d.v); })
    .attr("fill", function(d){ return d.key === "low" ? LOW : HIGH; }).attr("stroke", "#555").attr("stroke-width", 0.9);
  g.append("g").selectAll("text").data(bars).join("text")
    .attr("x", cx).attr("y", function(d){ return y(d.e) - 3.5; }).attr("text-anchor", "middle").attr("font-size", 7)
    .html(function(d){ return d.p === "n.s." ? "n.s." : '<tspan font-style="italic">p</tspan>' + d.p.slice(1).replace("<", "&lt;"); });

  var ya = g.append("g").attr("transform", "translate(551.7,0)")
    .call(d3.axisLeft(y).tickValues(fTicks).tickSize(4).tickSizeOuter(0).tickFormat(d3.format(".1f")));
  styleAxis(ya, 11);
  var xa = g.append("g").attr("transform", "translate(0,409)")
    .call(d3.axisBottom(x).tickSize(0).tickPadding(6));
  xa.select(".domain").attr("d", "M551.7,0.5H778");
  styleAxis(xa, 10.8);

  g.append("rect").attr("x", 665).attr("y", 264.3).attr("width", 11.7).attr("height", 7.6).attr("fill", LOW).attr("stroke", "#555").attr("stroke-width", 0.7);
  g.append("text").attr("x", 681.5).attr("y", 271.2).attr("font-size", 8.5).text("SUN2 low-OE vs. ctrl");
  g.append("rect").attr("x", 665).attr("y", 276.7).attr("width", 11.7).attr("height", 7.6).attr("fill", HIGH).attr("stroke", "#555").attr("stroke-width", 0.7);
  g.append("text").attr("x", 681.5).attr("y", 283.6).attr("font-size", 8.5).text("SUN2 high-OE vs. ctrl");

  g.append("text").attr("transform", "translate(505,351.7) rotate(-90)").attr("text-anchor", "middle").attr("font-size", 10.5).text("Fold change in SUN2");
  g.append("text").attr("transform", "translate(517,351.7) rotate(-90)").attr("text-anchor", "middle").attr("font-size", 10.5).text("phosphosite occupancy");
})();
panelLetter("f", 493, 251);
</script>
</body>
</html>
